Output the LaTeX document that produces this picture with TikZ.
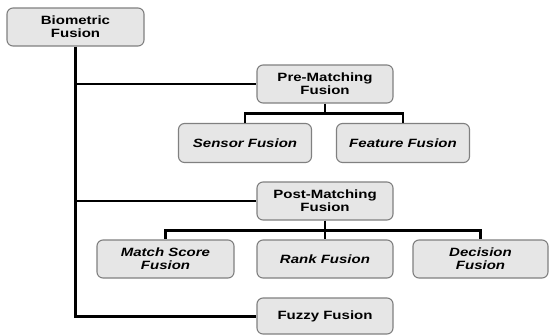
\documentclass[tikz,border=0pt]{standalone}
\usepackage{fontspec}
\setmainfont[FakeStretch=1.25]{Liberation Sans}
\definecolor{boxfill}{HTML}{E6E6E6}
\definecolor{boxline}{HTML}{808080}
\tikzset{
  fbox/.style={draw=boxline, fill=boxfill, line width=1.1pt, rounded corners=6pt,
    align=center, inner sep=0pt, font=\fontsize{12}{12.7}\selectfont\bfseries},
  leaf/.style={fbox, font=\fontsize{12}{12.7}\selectfont\bfseries\itshape},
  trunk/.style={line width=3pt},
  branch/.style={line width=2.3pt},
}
\begin{document}
\begin{tikzpicture}[x=1pt,y=-1pt]
\useasboundingbox (0,0) rectangle (549,335);
\node[fbox, minimum width=137pt, minimum height=38pt] (bio) at (75.5,27) {Biometric\\Fusion};
\node[fbox, minimum width=136pt, minimum height=38pt] (pre) at (325,84) {Pre-Matching\\Fusion};
\node[leaf, minimum width=133pt, minimum height=39pt] (sensor) at (245,143) {Sensor Fusion};
\node[leaf, minimum width=133pt, minimum height=39pt] (feature) at (403,143) {Feature Fusion};
\node[fbox, minimum width=136pt, minimum height=38pt] (post) at (325,201) {Post-Matching\\Fusion};
\node[leaf, minimum width=137pt, minimum height=38pt] (match) at (165.5,259) {Match Score\\Fusion};
\node[leaf, minimum width=136pt, minimum height=38pt] (rank) at (325,259) {Rank Fusion};
\node[leaf, minimum width=135pt, minimum height=38pt] (decision) at (480.5,259) {Decision\\Fusion};
\node[fbox, minimum width=136pt, minimum height=36pt] (fuzzy) at (325,316) {Fuzzy Fusion};

\draw[trunk] (bio.south) -- (bio.south |- fuzzy.west) -- (fuzzy.west);
\draw[branch] (bio.south |- pre.west) -- (pre.west);
\draw[branch] (bio.south |- post.west) -- (post.west);
\draw[branch] (pre.south) -- ++(0,10) coordinate (pj) -| (sensor.north);
\draw[branch] (pj) -| (feature.north);
\draw[branch] (post.south) -- ++(0,10) coordinate (qj) -| (match.north);
\draw[branch] (qj) -| (decision.north);
\draw[branch] (post.south) -- (rank.north);
\end{tikzpicture}
\end{document}
